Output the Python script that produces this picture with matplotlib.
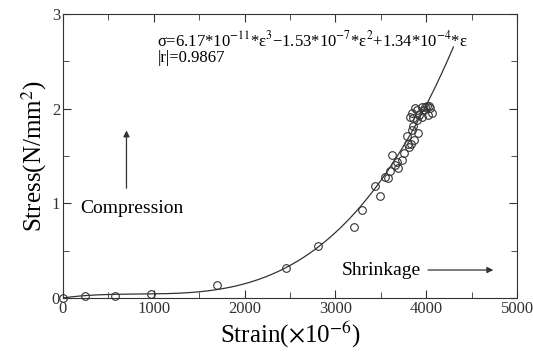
import numpy as np
import matplotlib
matplotlib.use("Agg")
import matplotlib.pyplot as plt
from matplotlib.ticker import MultipleLocator

plt.rcParams['font.family'] = ['Liberation Serif', 'DejaVu Serif']
plt.rcParams['mathtext.fontset'] = 'stix'

# measured points (strain x1e-6, stress N/mm2)
strain = [0, 240, 570, 975, 1700, 2453, 2805, 3205, 3293, 3436, 3491, 3546,
          3576, 3601, 3627, 3656, 3682, 3693, 3730, 3755, 3785, 3803, 3814,
          3829, 3840, 3858, 3822, 3840, 3851, 3866, 3877, 3895, 3895, 3913,
          3924, 3950, 3950, 3976, 4005, 4023, 4042, 4060, 3990, 4030]
stress = [0.0, 0.02, 0.02, 0.04, 0.14, 0.32, 0.55, 0.75, 0.93, 1.18, 1.08, 1.28,
          1.27, 1.34, 1.51, 1.40, 1.44, 1.37, 1.46, 1.53, 1.71, 1.63, 1.60,
          1.63, 1.77, 1.82, 1.91, 1.95, 1.90, 1.67, 2.01, 1.88, 1.99, 1.74,
          1.93, 2.02, 1.91, 1.99, 2.03, 1.93, 2.01, 1.96, 2.02, 2.03]

# fitted cubic shown on the chart
coef = [6.17e-11, -1.53e-7, 1.34e-4, 0.0]
fit_end = 4300

fig = plt.figure(figsize=(5.33, 3.53), dpi=100)
ax = fig.add_axes([0.118, 0.156, 0.852, 0.804])

e = np.linspace(0, fit_end, 300)
ax.plot(e, np.polyval(coef, e), color='#333333', lw=0.9)
ax.plot(strain, stress, 'o', mfc='none', mec='#333333', ms=5.5, mew=0.8,
        clip_on=False)

ax.set_xlim(0, 5000)
ax.set_ylim(0, 3)
ax.xaxis.set_major_locator(MultipleLocator(1000))
ax.xaxis.set_minor_locator(MultipleLocator(500))
ax.yaxis.set_major_locator(MultipleLocator(1))
ax.yaxis.set_minor_locator(MultipleLocator(0.5))
ax.tick_params(which='both', direction='in', top=True, right=True,
               labelsize=12, pad=2, colors='#333333')
ax.tick_params(which='major', length=6)
ax.tick_params(which='minor', length=4)
for s in ax.spines.values():
    s.set_color('#333333')

ax.set_xlabel(r'Strain($\times$10$^{-6}$)', fontsize=18, labelpad=2)
ax.set_ylabel(r'Stress(N/mm$^{2}$)', fontsize=18, labelpad=2)

eq = (u'σ=6.17*10$^{-11}$*ε$^{3}$\u22121.53*10$^{-7}$*ε$^{2}$'
      u'+1.34*10$^{-4}$*ε')
ax.text(1040, 2.72, eq, fontsize=12, va='center', ha='left')
ax.text(1040, 2.54, '|r|=0.9867', fontsize=12, va='center', ha='left')

ax.annotate('', xy=(700, 1.8), xytext=(700, 1.13),
            arrowprops=dict(arrowstyle='-|>', color='#333333', lw=0.9,
                            mutation_scale=9))
ax.text(190, 0.95, 'Compression', fontsize=14, va='center', ha='left')

ax.text(3070, 0.295, 'Shrinkage', fontsize=14, va='center', ha='left')
ax.annotate('', xy=(4770, 0.295), xytext=(3990, 0.295),
            arrowprops=dict(arrowstyle='-|>', color='#333333', lw=0.9,
                            mutation_scale=9))

fig.savefig('out.png', dpi=100)
